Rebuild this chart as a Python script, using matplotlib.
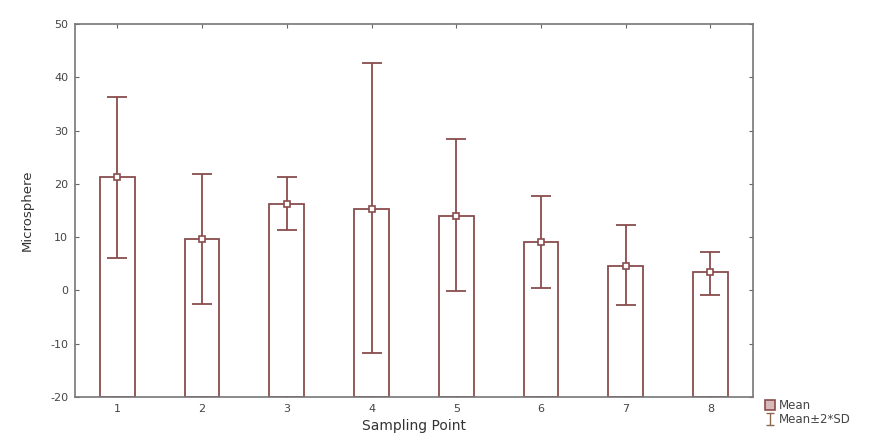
import matplotlib
matplotlib.use("Agg")
import matplotlib.pyplot as plt
from matplotlib.lines import Line2D
import numpy as np

plt.rcParams["axes.unicode_minus"] = False

points = [1, 2, 3, 4, 5, 6, 7, 8]
means = [21.2, 9.6, 16.3, 15.3, 14.0, 9.0, 4.6, 3.4]
upper = [36.3, 21.8, 21.2, 42.6, 28.4, 17.8, 12.2, 7.3]
lower = [6.1, -2.6, 11.3, -11.8, -0.2, 0.4, -2.8, -0.9]
yticks = [-20, -10, 0, 10, 20, 30, 40, 50]

edge = "#8a4d4d"
txt = "#444444"

fig = plt.figure(figsize=(8.86, 4.45), dpi=100)
ax = fig.add_axes([0.0847, 0.108, 0.765, 0.838])

base = -20
ax.bar(points, [m - base for m in means], bottom=base, width=0.41,
       facecolor="white", edgecolor=edge, linewidth=1.3, zorder=2)
m = np.array(means)
ax.errorbar(points, means, yerr=[m - np.array(lower), np.array(upper) - m],
            fmt="none", ecolor=edge, elinewidth=1.3, capsize=7, capthick=1.3, zorder=3)
ax.plot(points, means, ls="none", marker="s", ms=5, mfc="white", mec=edge, mew=1.2, zorder=4)

# dummy error bar for the legend symbol
leg_eb = ax.errorbar([np.nan], [np.nan], yerr=[[1], [1]], fmt="none",
                     ecolor="#8a6a4d", elinewidth=1.0, capsize=3, capthick=1.0)

ax.set_xlim(0.5, 8.5)
ax.set_ylim(-20, 50)
ax.set_xticks(points)
ax.set_yticks(yticks)
ax.tick_params(direction="in", length=3, colors="#666666", labelcolor=txt, labelsize=8,
               top=True, right=True, pad=5)
for s in ax.spines.values():
    s.set_color("#777777")
    s.set_linewidth(1.2)

ax.set_xlabel("Sampling Point", fontsize=10, color="#333333", labelpad=4)
ax.set_ylabel("Microsphere", fontsize=9.5, color="#333333", labelpad=12)

handles = [
    Line2D([], [], ls="none", marker="s", ms=7, mfc="#d9b8b8", mec=edge, mew=1.2),
    leg_eb,
]
fig.legend(handles, ["Mean", "Mean\u00b12*SD"], loc="lower left",
           bbox_to_anchor=(0.857, 0.03), frameon=False, fontsize=8.5,
           labelcolor=txt, handlelength=0.8, handletextpad=0.4, labelspacing=0.05,
           borderpad=0)

fig.savefig("out.png", dpi=100)
